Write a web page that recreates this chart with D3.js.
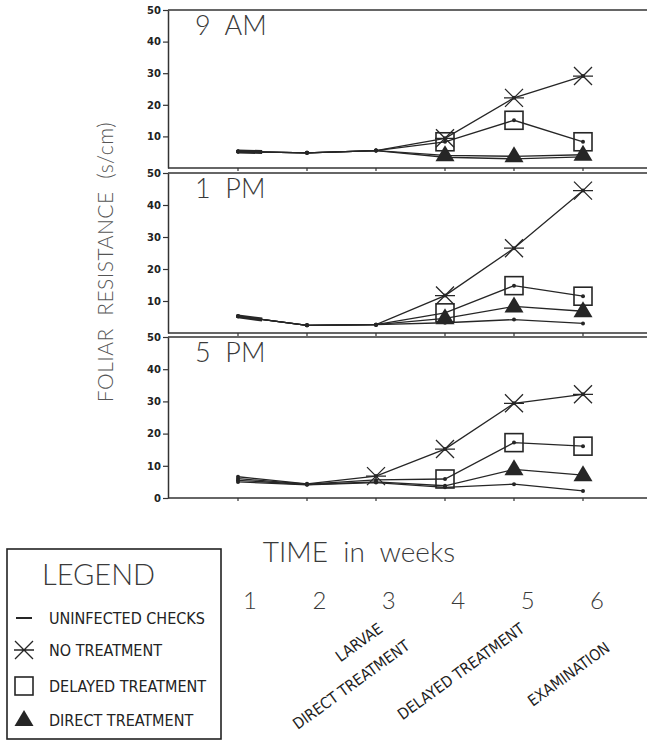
<!DOCTYPE html>
<html>
<head>
<meta charset="utf-8">
<script src="https://cdn.jsdelivr.net/npm/d3@7"></script>
<style>
  body { margin: 0; background: #fff; }
  svg { display: block; }
  .tick-lbl text { font-family: "DejaVu Sans", sans-serif; font-weight: bold; font-size: 10px; fill: #222; }
  .thin { font-family: Lato, "Open Sans", sans-serif; font-weight: 300; fill: #3a3a3a; white-space: pre; }
  .narrow { font-family: "Liberation Sans Narrow", "DejaVu Sans Condensed", "Liberation Sans", sans-serif; fill: #222; }
</style>
</head>
<body>
<div id="chart"></div>
<script>
// weeks on the x axis
var weeks = [1, 2, 3, 4, 5, 6];
var panelNames = ["9  AM", "1  PM", "5  PM"];
var seriesNames = ["UNINFECTED CHECKS", "NO TREATMENT", "DELAYED TREATMENT", "DIRECT TREATMENT"];
var eventLabels = ["LARVAE", "DIRECT TREATMENT", "DELAYED TREATMENT", "EXAMINATION"];
var eventWeeks = [3, 3, 5, 6];

// foliar resistance (s/cm)
var uninfected9am = [5.2, 4.8, 5.5, 3.4, 2.9, 3.5];
var noTreat9am    = [5.2, 4.8, 5.5, 9.4, 22.2, 29.1];
var delayed9am    = [5.2, 4.8, 5.5, 8.3, 15.1, 8.3];
var direct9am     = [5.2, 4.8, 5.5, 4.0, 3.7, 4.2];

var uninfected1pm = [5.2, 2.4, 2.6, 3.2, 4.2, 3.0];
var noTreat1pm    = [5.2, 2.4, 2.6, 11.7, 26.5, 44.5];
var delayed1pm    = [5.2, 2.4, 2.6, 6.3, 14.8, 11.5];
var direct1pm     = [5.2, 2.4, 2.6, 4.6, 8.3, 6.8];

var uninfected5pm = [5.0, 4.1, 4.8, 3.3, 4.3, 2.2];
var noTreat5pm    = [6.6, 4.4, 6.8, 15.2, 29.4, 32.2];
var delayed5pm    = [6.0, 4.3, 5.6, 5.9, 17.2, 16.1];
var direct5pm     = [5.5, 4.2, 5.0, 3.8, 8.9, 7.1];

// first week that carries a symbol, per series (uninfected never does)
var firstMarked9am = [99, 4, 4, 4];
var firstMarked1pm = [99, 4, 4, 4];
var firstMarked5pm = [99, 3, 4, 5];

var yTicks9am = [10, 20, 30, 40, 50];
var yTicks1pm = [10, 20, 30, 40, 50];
var yTicks5pm = [0, 10, 20, 30, 40, 50];

var panels = [
  { name: panelNames[0], series: [uninfected9am, noTreat9am, delayed9am, direct9am], marked: firstMarked9am, ticks: yTicks9am, top: 10, bottom: 168, thick: true },
  { name: panelNames[1], series: [uninfected1pm, noTreat1pm, delayed1pm, direct1pm], marked: firstMarked1pm, ticks: yTicks1pm, top: 173, bottom: 333, thick: true },
  { name: panelNames[2], series: [uninfected5pm, noTreat5pm, delayed5pm, direct5pm], marked: firstMarked5pm, ticks: yTicks5pm, top: 337, bottom: 498, thick: false }
];

var width = 649, height = 741;
var axisX = 168, rightX = 647;
var ink = "#262626";

var svg = d3.select("#chart").append("svg")
    .attr("width", width)
    .attr("height", height);

var x = d3.scaleLinear().domain([1, 6]).range([238, 583]);
var xLabel = d3.scaleLinear().domain([1, 6]).range([250, 597]);

// symbol drawers
function drawSymbol(g, kind) {
  if (kind == 1) {
    g.append("path")
      .attr("d", "M-9,-9L9,9M-9,9L9,-9M-10,0L10,0")
      .attr("fill", "none").attr("stroke", ink).attr("stroke-width", 1.3);
  } else if (kind == 2) {
    g.append("rect")
      .attr("x", -9).attr("y", -9).attr("width", 18).attr("height", 18)
      .attr("fill", "none").attr("stroke", ink).attr("stroke-width", 1.6);
  } else if (kind == 3) {
    g.append("path")
      .attr("d", "M0,-10L9.5,6L-9.5,6Z")
      .attr("fill", ink);
  }
}

panels.forEach(function(p) {
  var y = d3.scaleLinear().domain([0, 50]).range([p.bottom, p.top]);
  var g = svg.append("g");

  // top and bottom rules of the panel
  [0, 50].forEach(function(v) {
    g.append("line")
      .attr("x1", axisX).attr("x2", rightX)
      .attr("y1", y(v)).attr("y2", y(v))
      .attr("stroke", "#333").attr("stroke-width", 1.5);
  });

  // week ticks on the zero line
  g.selectAll(".wt").data(weeks).enter().append("line")
    .attr("x1", function(d) { return x(d); })
    .attr("x2", function(d) { return x(d); })
    .attr("y1", y(0)).attr("y2", y(0) + 3)
    .attr("stroke", "#333").attr("stroke-width", 1.2);

  // y axis
  g.append("g")
    .attr("class", "tick-lbl")
    .attr("transform", "translate(" + axisX + ",0)")
    .call(d3.axisLeft(y).tickValues(p.ticks).tickSize(5).tickSizeOuter(0).tickPadding(2))
    .call(function(a) {
      a.select(".domain").attr("stroke", "#333").attr("stroke-width", 1.5);
      a.selectAll(".tick line").attr("stroke", "#333").attr("stroke-width", 1.2);
    });

  // panel title
  g.append("text")
    .attr("class", "thin")
    .attr("x", 195).attr("y", p.top + 25)
    .attr("font-size", 27)
    .text(p.name);

  var line = d3.line()
    .x(function(d, i) { return x(weeks[i]); })
    .y(function(d) { return y(d); });

  p.series.forEach(function(s) {
    g.append("path")
      .attr("d", line(s))
      .attr("fill", "none")
      .attr("stroke", ink)
      .attr("stroke-width", 1.3);
  });

  // heavy start where all series overlap
  if (p.thick) {
    var s0 = p.series[0];
    g.append("line")
      .attr("x1", x(weeks[0])).attr("y1", y(s0[0]))
      .attr("x2", x(weeks[0]) + 0.35 * (x(weeks[1]) - x(weeks[0])))
      .attr("y2", y(s0[0] + 0.35 * (s0[1] - s0[0])))
      .attr("stroke", ink).attr("stroke-width", 4);
  }

  // small dots at every point
  p.series.forEach(function(s) {
    g.selectAll(null).data(s).enter().append("circle")
      .attr("cx", function(d, i) { return x(weeks[i]); })
      .attr("cy", function(d) { return y(d); })
      .attr("r", 2)
      .attr("fill", ink);
  });

  // symbols
  p.series.forEach(function(s, k) {
    s.forEach(function(v, i) {
      if (weeks[i] >= p.marked[k]) {
        var m = g.append("g").attr("transform", "translate(" + x(weeks[i]) + "," + y(v) + ")");
        drawSymbol(m, k);
      }
    });
  });
});

// y axis title
svg.append("text")
  .attr("class", "thin")
  .attr("transform", "translate(113,262) rotate(-90)")
  .attr("text-anchor", "middle")
  .attr("font-size", 21)
  .attr("letter-spacing", 0.5)
  .style("fill", "#555")
  .text("FOLIAR  RESISTANCE  (s/cm)");

// x axis title and week numbers
svg.append("text")
  .attr("class", "thin")
  .attr("x", 359).attr("y", 562)
  .attr("text-anchor", "middle")
  .attr("font-size", 28)
  .text("TIME  in  weeks");

svg.selectAll(".wk").data(weeks).enter().append("text")
  .attr("class", "thin")
  .attr("x", function(d) { return xLabel(d); })
  .attr("y", 609)
  .attr("text-anchor", "middle")
  .attr("font-size", 24)
  .text(function(d) { return d; });

// slanted event notes under the weeks
var eventDx = [-5, 22, -2, 14];
var eventY = [631, 648, 631, 650];
eventLabels.forEach(function(t, i) {
  svg.append("text")
    .attr("class", "narrow")
    .attr("transform", "translate(" + (xLabel(eventWeeks[i]) + eventDx[i]) + "," + eventY[i] + ") rotate(-36)")
    .attr("text-anchor", "end")
    .attr("font-size", 15.5)
    .text(t);
});

// legend
var leg = svg.append("g");
leg.append("rect")
  .attr("x", 7).attr("y", 549).attr("width", 214).attr("height", 190)
  .attr("fill", "none").attr("stroke", "#222").attr("stroke-width", 1.6);
leg.append("text")
  .attr("class", "thin")
  .attr("x", 42).attr("y", 585)
  .attr("font-size", 29)
  .text("LEGEND");

var legY = [618, 650, 686, 720];
seriesNames.forEach(function(n, k) {
  var m = leg.append("g").attr("transform", "translate(24," + legY[k] + ")");
  if (k == 0) {
    m.append("line").attr("x1", -8).attr("x2", 8).attr("y1", 0).attr("y2", 0)
      .attr("stroke", ink).attr("stroke-width", 2);
  } else {
    drawSymbol(m, k);
  }
  leg.append("text")
    .attr("class", "narrow")
    .attr("x", 49).attr("y", legY[k] + 6)
    .attr("font-size", 16)
    .text(n);
});
</script>
</body>
</html>
